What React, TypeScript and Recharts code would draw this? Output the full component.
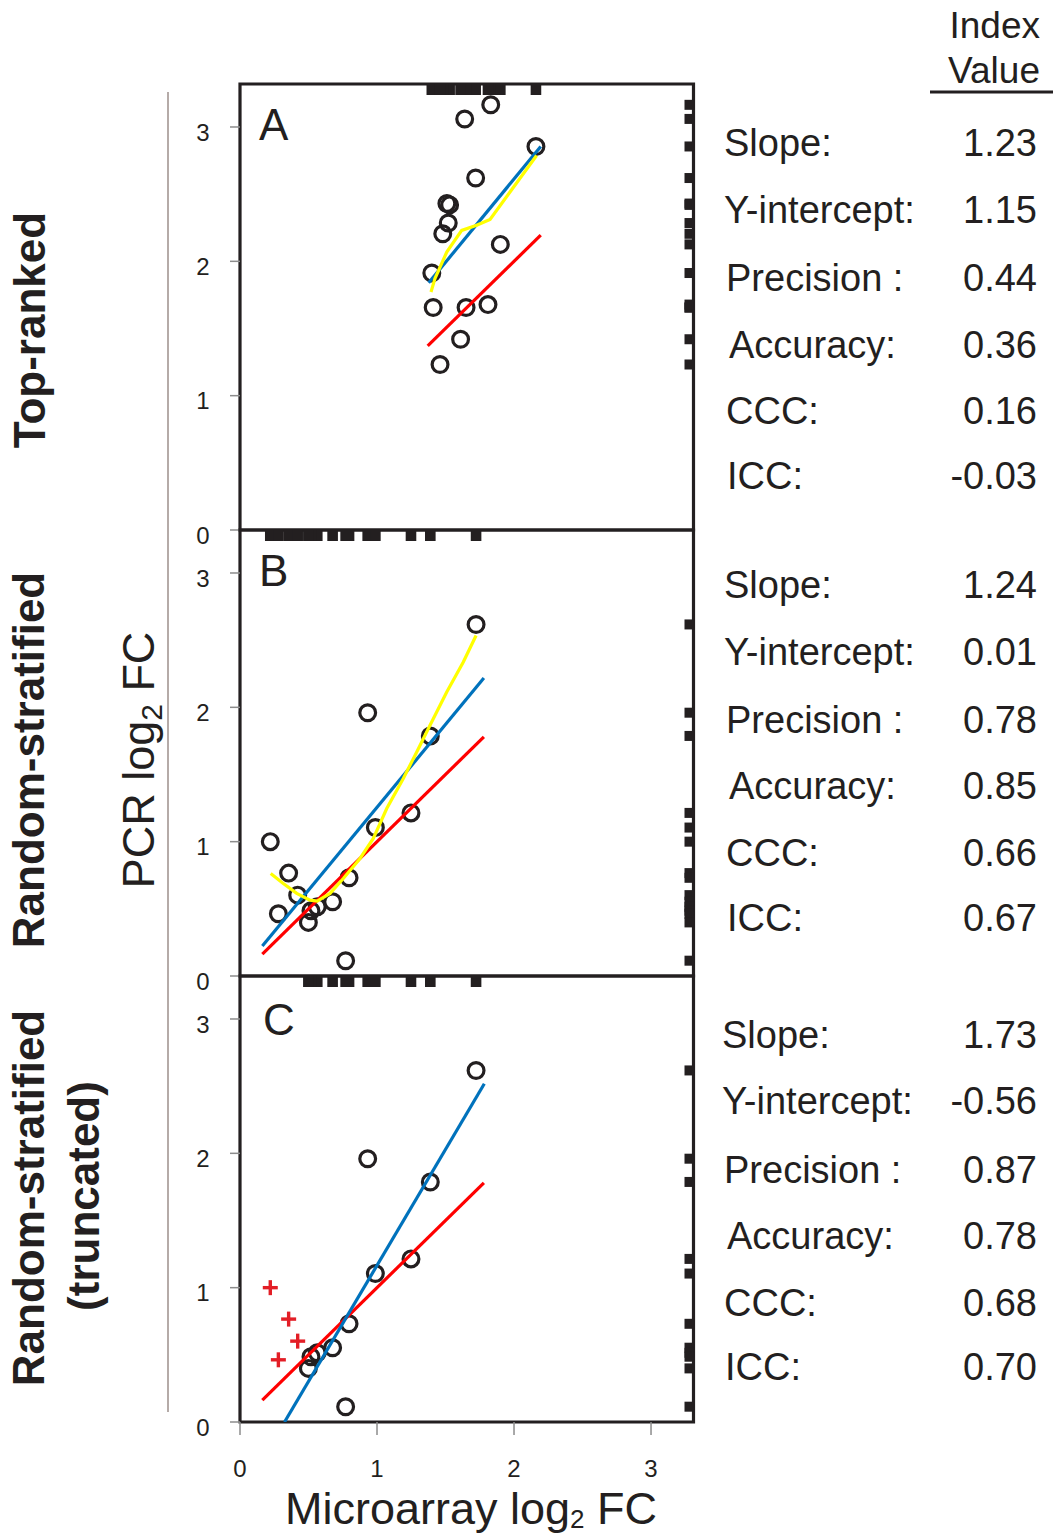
import React from 'react';
import { ScatterChart, Scatter, XAxis, YAxis, ReferenceArea } from 'recharts';

const FONT = '"Liberation Sans", Arial, Helvetica, sans-serif';
const INK = '#231f20';
const BLUE = '#0072bc';
const RED = '#ff0000';
const YELLOW = '#ffff00';
const CROSS = '#e31e26';

const XMAX = 3.31;
const YMAX = 3.32;
const axisTicks = [0, 1, 2, 3];

// Panel A: top-ranked genes
const topRankedPoints = [
  { x: 1.83, y: 3.165 }, { x: 1.64, y: 3.06 }, { x: 2.16, y: 2.855 }, { x: 1.72, y: 2.62 },
  { x: 1.51, y: 2.43 }, { x: 1.53, y: 2.42 }, { x: 1.52, y: 2.285 }, { x: 1.48, y: 2.205 },
  { x: 1.9, y: 2.126 }, { x: 1.4, y: 1.913 }, { x: 1.41, y: 1.656 }, { x: 1.65, y: 1.656 },
  { x: 1.81, y: 1.678 }, { x: 1.61, y: 1.42 }, { x: 1.46, y: 1.232 },
];
const topRankedFit = [{ x: 1.377, y: 1.84 }, { x: 2.195, y: 2.855 }];
const topRankedIdentity = [{ x: 1.37, y: 1.37 }, { x: 2.195, y: 2.195 }];
const topRankedLoess = [
  { x: 1.394, y: 1.772 }, { x: 1.423, y: 1.871 }, { x: 1.509, y: 2.069 }, { x: 1.618, y: 2.23 },
  { x: 1.727, y: 2.268 }, { x: 1.825, y: 2.312 }, { x: 2.165, y: 2.788 },
];

// Panel B: random-stratified genes
const stratifiedPoints = [
  { x: 1.723, y: 2.617 }, { x: 0.932, y: 1.96 }, { x: 1.389, y: 1.787 }, { x: 1.248, y: 1.214 },
  { x: 0.988, y: 1.105 }, { x: 0.221, y: 1.0 }, { x: 0.355, y: 0.766 }, { x: 0.796, y: 0.731 },
  { x: 0.421, y: 0.602 }, { x: 0.676, y: 0.553 }, { x: 0.564, y: 0.515 }, { x: 0.518, y: 0.486 },
  { x: 0.28, y: 0.463 }, { x: 0.499, y: 0.399 }, { x: 0.771, y: 0.114 },
];
const stratifiedFit = [{ x: 0.163, y: 0.223 }, { x: 1.78, y: 2.218 }];
const stratifiedIdentity = [{ x: 0.163, y: 0.163 }, { x: 1.78, y: 1.78 }];
const stratifiedLoess = [
  { x: 0.224, y: 0.763 }, { x: 0.316, y: 0.689 }, { x: 0.414, y: 0.615 }, { x: 0.511, y: 0.565 },
  { x: 0.564, y: 0.558 }, { x: 0.657, y: 0.615 }, { x: 0.754, y: 0.726 }, { x: 0.876, y: 0.875 },
  { x: 0.973, y: 1.024 }, { x: 1.071, y: 1.247 }, { x: 1.192, y: 1.47 }, { x: 1.29, y: 1.668 },
  { x: 1.387, y: 1.866 }, { x: 1.509, y: 2.114 }, { x: 1.63, y: 2.337 }, { x: 1.723, y: 2.535 },
];

// Panel C: random-stratified (truncated)
const truncatedKept = [
  { x: 1.723, y: 2.617 }, { x: 0.932, y: 1.96 }, { x: 1.389, y: 1.787 }, { x: 1.248, y: 1.214 },
  { x: 0.988, y: 1.105 }, { x: 0.796, y: 0.731 }, { x: 0.676, y: 0.553 }, { x: 0.564, y: 0.515 },
  { x: 0.518, y: 0.486 }, { x: 0.499, y: 0.399 }, { x: 0.771, y: 0.114 },
];
const truncatedRemoved = [
  { x: 0.221, y: 1.0 }, { x: 0.355, y: 0.766 }, { x: 0.421, y: 0.602 }, { x: 0.28, y: 0.463 },
];
const truncatedFit = [{ x: 0.325, y: 0.0 }, { x: 1.783, y: 2.518 }];
const truncatedIdentity = [{ x: 0.163, y: 0.163 }, { x: 1.78, y: 1.78 }];

// Index values
const statLabels = ['Slope:', 'Y-intercept:', 'Precision :', 'Accuracy:', 'CCC:', 'ICC:'];
const statsA = ['1.23', '1.15', '0.44', '0.36', '0.16', '-0.03'];
const statsB = ['1.24', '0.01', '0.78', '0.85', '0.66', '0.67'];
const statsC = ['1.73', '-0.56', '0.87', '0.78', '0.68', '0.70'];
const panelLetters = ['A', 'B', 'C'];

const OpenCircle = (p: any) => (
  <circle cx={p.cx} cy={p.cy} r={7.9} fill="none" stroke={INK} strokeWidth={3.2} />
);
const RedCross = (p: any) => (
  <g stroke={CROSS} strokeWidth={3.4}>
    <line x1={p.cx - 7.5} y1={p.cy} x2={p.cx + 7.5} y2={p.cy} />
    <line x1={p.cx} y1={p.cy - 7.5} x2={p.cx} y2={p.cy + 7.5} />
  </g>
);
const TopRug = (p: any) => <rect x={p.cx - 5.3} y={p.cy} width={10.6} height={11} fill={INK} />;
const RightRug = (p: any) => <rect x={p.cx - 9} y={p.cy - 5} width={9} height={10} fill={INK} />;
const NoDot = () => <g />;

const YTick = (p: any) => (
  <text x={p.x - 25} y={p.y + 5} dy="0.36em" textAnchor="middle" fontSize={24} fill={INK} fontFamily={FONT}>
    {p.payload.value}
  </text>
);
const XTick = (p: any) => (
  <text x={p.x} y={p.y + 31} dy="0.36em" textAnchor="middle" fontSize={24} fill={INK} fontFamily={FONT}>
    {p.payload.value}
  </text>
);

type PanelProps = {
  top: number;
  points: { x: number; y: number }[];
  crosses?: { x: number; y: number }[];
  fit: { x: number; y: number }[];
  identity: { x: number; y: number }[];
  loess?: { x: number; y: number }[];
  showX?: boolean;
};

const PANEL_H = 446;

function Panel({ top, points, crosses, fit, identity, loess, showX }: PanelProps) {
  const topRug = points.map((p) => ({ x: p.x, y: YMAX }));
  const rightRug = points.map((p) => ({ x: XMAX, y: p.y }));
  const bottomSpace = showX ? 90 : 20;
  return (
    <div style={{ position: 'absolute', left: 0, top: top - 20 }}>
      <ScatterChart
        width={1054}
        height={20 + PANEL_H + bottomSpace}
        margin={{ top: 20, right: 360.5, bottom: 20, left: 180 }}
      >
        <XAxis
          type="number"
          dataKey="x"
          domain={[0, XMAX]}
          ticks={axisTicks}
          allowDataOverflow
          hide={!showX}
          height={70}
          axisLine={false}
          tickSize={13}
          tickLine={{ stroke: '#8c8c8c', strokeWidth: 1.5 }}
          tick={XTick}
        />
        <YAxis
          type="number"
          dataKey="y"
          domain={[0, YMAX]}
          ticks={axisTicks}
          allowDataOverflow
          width={60}
          axisLine={false}
          tickSize={10}
          tickLine={{ stroke: '#8c8c8c', strokeWidth: 1.5 }}
          tick={YTick}
        />
        <Scatter data={points} shape={OpenCircle} isAnimationActive={false} />
        {crosses && <Scatter data={crosses} shape={RedCross} isAnimationActive={false} />}
        <Scatter data={topRug} shape={TopRug} isAnimationActive={false} />
        <Scatter data={rightRug} shape={RightRug} isAnimationActive={false} />
        <Scatter
          data={identity}
          shape={NoDot}
          line={{ stroke: RED, strokeWidth: 3.2 }}
          lineType="joint"
          isAnimationActive={false}
        />
        <Scatter
          data={fit}
          shape={NoDot}
          line={{ stroke: BLUE, strokeWidth: 3.2 }}
          lineType="joint"
          isAnimationActive={false}
        />
        {loess && (
          <Scatter
            data={loess}
            shape={NoDot}
            line={{ stroke: YELLOW, strokeWidth: 3.2 }}
            lineType="joint"
            isAnimationActive={false}
          />
        )}
        <ReferenceArea
          x1={0}
          x2={XMAX}
          y1={0}
          y2={YMAX}
          fill="none"
          fillOpacity={0}
          stroke={INK}
          strokeWidth={3.2}
          ifOverflow="visible"
        />
      </ScatterChart>
    </div>
  );
}

const statRows = [
  { base: 724, ys: [143, 210, 278, 345, 411, 476], values: statsA },
  { base: 724, ys: [585, 652, 720, 786, 853, 918], values: statsB },
  { base: 722, ys: [1035, 1101, 1170, 1236, 1303, 1367], values: statsC },
];
const labelIndent = [0, 0, 2, 5, 2, 3];
const letterPos = [
  { x: 259, y: 140 },
  { x: 259, y: 586 },
  { x: 263, y: 1035 },
];

function Overlay() {
  return (
    <svg
      width={1054}
      height={1534}
      style={{ position: 'absolute', left: 0, top: 0, pointerEvents: 'none' }}
      fontFamily={FONT}
      fill={INK}
    >
      <line x1={168} y1={92} x2={168} y2={1412} stroke="#9d8f8b" strokeWidth={1.5} />
      <text transform="translate(45,330) rotate(-90)" textAnchor="middle" fontSize={44} fontWeight="bold">
        Top-ranked
      </text>
      <text transform="translate(44,760) rotate(-90)" textAnchor="middle" fontSize={44} fontWeight="bold">
        Random-stratified
      </text>
      <text transform="translate(44,1198) rotate(-90)" textAnchor="middle" fontSize={44} fontWeight="bold">
        Random-stratified
      </text>
      <text transform="translate(99,1196) rotate(-90)" textAnchor="middle" fontSize={44} fontWeight="bold">
        (truncated)
      </text>
      <text transform="translate(154,760) rotate(-90)" textAnchor="middle" fontSize={45}>
        PCR log
        <tspan fontSize={30} dy={8}>2</tspan>
        <tspan dy={-8}> FC</tspan>
      </text>
      <text x={471} y={1524} textAnchor="middle" fontSize={45}>
        Microarray log
        <tspan fontSize={26} dy={4}>2</tspan>
        <tspan dy={-4}> FC</tspan>
      </text>
      {panelLetters.map((l, i) => (
        <text key={l} x={letterPos[i].x} y={letterPos[i].y} fontSize={44}>
          {l}
        </text>
      ))}
      <text x={1040} y={38} textAnchor="end" fontSize={37}>
        Index
      </text>
      <text x={1040} y={83} textAnchor="end" fontSize={37}>
        Value
      </text>
      <line x1={930} y1={92} x2={1053} y2={92} stroke={INK} strokeWidth={3} />
      {statRows.map((row, r) =>
        statLabels.map((lab, i) => (
          <g key={`${r}-${i}`}>
            <text x={row.base + labelIndent[i]} y={row.ys[i] + 13} fontSize={38}>
              {lab}
            </text>
            <text x={1037} y={row.ys[i] + 13} textAnchor="end" fontSize={38}>
              {row.values[i]}
            </text>
          </g>
        ))
      )}
    </svg>
  );
}

export default function App() {
  return (
    <div style={{ position: 'absolute', left: 0, top: 0, width: 1054, height: 1534, background: '#fff' }}>
      <Overlay />
      <Panel
        top={84}
        points={topRankedPoints}
        fit={topRankedFit}
        identity={topRankedIdentity}
        loess={topRankedLoess}
      />
      <Panel
        top={530}
        points={stratifiedPoints}
        fit={stratifiedFit}
        identity={stratifiedIdentity}
        loess={stratifiedLoess}
      />
      <Panel
        top={976}
        points={truncatedKept}
        crosses={truncatedRemoved}
        fit={truncatedFit}
        identity={truncatedIdentity}
        showX
      />
    </div>
  );
}
